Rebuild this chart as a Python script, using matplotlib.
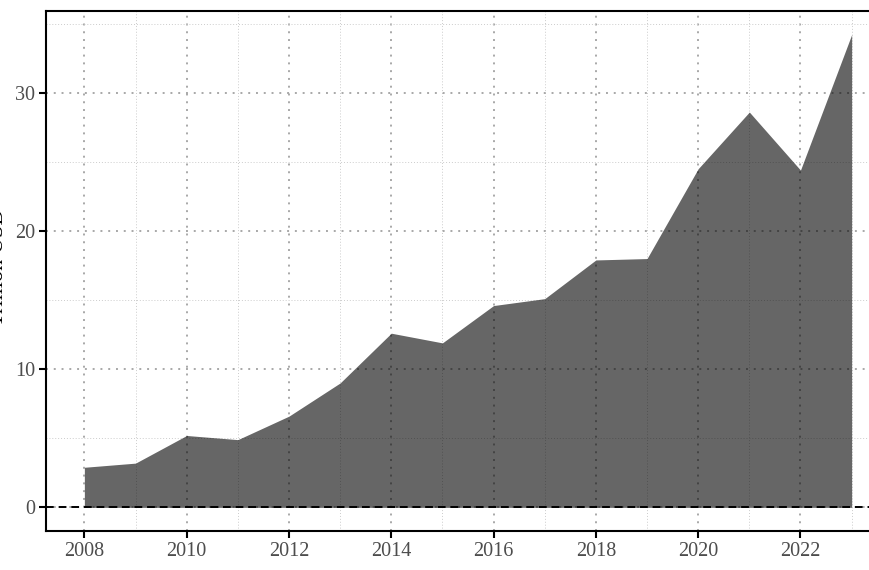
import numpy as np
import matplotlib
matplotlib.use("Agg")
import matplotlib.pyplot as plt
from matplotlib.ticker import MultipleLocator

# values
years = [2008, 2009, 2010, 2011, 2012, 2013, 2014, 2015,
         2016, 2017, 2018, 2019, 2020, 2021, 2022, 2023]
values = [2.9, 3.2, 5.2, 4.9, 6.6, 9.0, 12.6, 11.9,
          14.6, 15.1, 17.9, 18.0, 24.5, 28.6, 24.4, 34.2]
y_label = "Trillion USD"

plt.rcParams["font.family"] = ["Liberation Serif", "DejaVu Serif"]

fig = plt.figure(figsize=(8.7, 5.7), dpi=100)
# the reference is cropped: the right edge of the panel sits outside the picture
ax = fig.add_axes([46 / 870, 1 - 531 / 570, 844 / 870, 520 / 570])

ax.set_axisbelow(True)
ax.fill_between(years, 0, values, color="black", alpha=0.6, linewidth=0)
ax.axhline(0, color="black", linestyle=(0, (4, 2.5)), linewidth=1.4, zorder=3)

ax.set_xlim(2007.25, 2023.75)
ax.set_ylim(-1.71, 35.91)

ax.xaxis.set_major_locator(MultipleLocator(2))
ax.xaxis.set_minor_locator(MultipleLocator(1))
ax.yaxis.set_major_locator(MultipleLocator(10))
ax.yaxis.set_minor_locator(MultipleLocator(5))

ax.grid(which="major", color="#a8a8a8", linestyle=(0, (1, 3)), linewidth=1.4)
ax.grid(which="minor", color="#cccccc", linestyle=(0, (1, 2)), linewidth=0.7)

for s in ["left", "bottom", "top"]:
    ax.spines[s].set_linewidth(1.5)
    ax.spines[s].set_color("black")
ax.spines["right"].set_visible(False)

ax.tick_params(which="major", length=5, width=1.5, color="black",
               labelsize=14.5, labelcolor="#4d4d4d", pad=3)
ax.tick_params(which="minor", length=0)

# y label: only its right edge shows at the left border, like in the reference
fig.text(8 / 870, 1 - 267 / 570, y_label, rotation=90, ha="right", va="center",
         fontsize=16, color="black")

fig.savefig("out.png", dpi=100)
